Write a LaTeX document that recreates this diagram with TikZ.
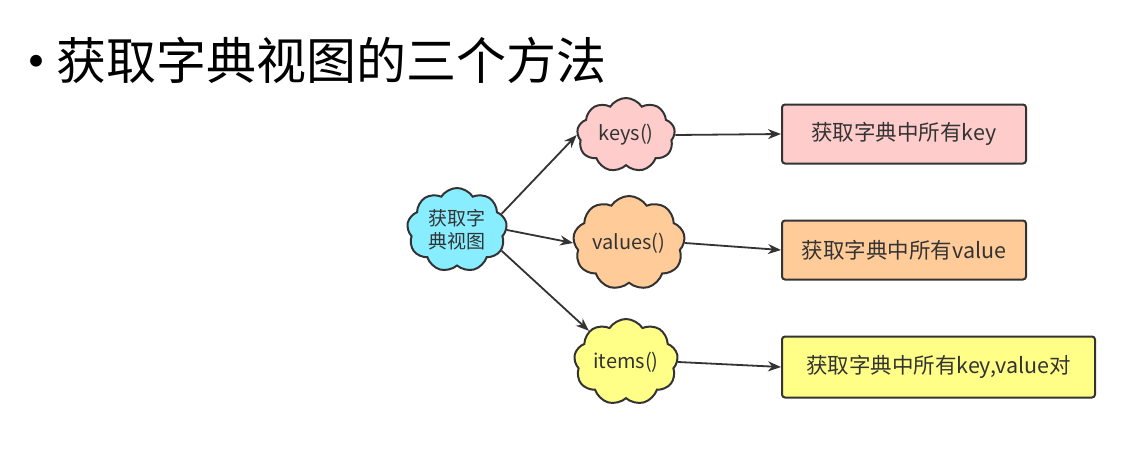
\documentclass[tikz,border=0pt]{standalone}
\usepackage{fontspec}
\setmainfont{Noto Sans CJK SC}
\newfontfamily\cjk{Noto Sans CJK SC}
\usetikzlibrary{shapes.symbols,arrows.meta}
\definecolor{cyancl}{RGB}{136,238,255}
\definecolor{pinkcl}{RGB}{255,204,204}
\definecolor{orangecl}{RGB}{255,204,153}
\definecolor{yellowcl}{RGB}{255,255,136}
\definecolor{linecl}{RGB}{51,51,51}
\definecolor{txtcl}{RGB}{51,51,51}
\tikzset{
  cloudnode/.style={cloud, cloud puffs=9, cloud puff arc=115, aspect=1.3, draw=linecl, line width=2pt, inner sep=0pt, text=txtcl, font=\cjk\fontsize{20}{24}\selectfont, align=center},
  boxnode/.style={draw=linecl, line width=2pt, rounded corners=3pt, text=txtcl, font=\cjk\fontsize{21.5}{24}\selectfont, minimum height=59pt, anchor=west},
  conn/.style={draw=linecl, line width=1.8pt, -{Stealth[length=13pt,width=10pt]}}
}
\begin{document}
\begin{tikzpicture}[x=1pt,y=-1pt]
\useasboundingbox[fill=white] (0,0) rectangle (1127,469);
\node[anchor=center, font=\cjk\fontsize{56}{60}\selectfont] (bullet) at (37,69) {•};
\node[anchor=west, inner sep=0pt, font=\cjk\fontsize{50}{58}\selectfont] (title) at (56,60) {获取字典视图的三个方法};
\node[cloudnode, fill=cyancl, minimum width=100pt, minimum height=84pt, font=\cjk\fontsize{19}{23}\selectfont] (c) at (457,230) {获取字\\典视图};
\node[cloudnode, fill=pinkcl, minimum width=98pt, minimum height=74pt] (k) at (626,135) {keys()};
\node[cloudnode, fill=orangecl, minimum width=104pt, minimum height=86pt] (v) at (629,243) {values()};
\node[cloudnode, fill=yellowcl, minimum width=104pt, minimum height=86pt] (i) at (626,362) {items()};
\node[boxnode, fill=pinkcl, minimum width=244pt] (kb) at (781,134) {获取字典中所有key};
\node[boxnode, fill=orangecl, minimum width=244pt] (vb) at (781,250) {获取字典中所有value};
\node[boxnode, fill=yellowcl, minimum width=313pt, minimum height=61pt] (ib) at (781,367) {获取字典中所有key,value对};
\draw[conn] (c.20) -- (k.west);
\draw[conn] (c.east) -- (v.west);
\draw[conn] (c.-25) -- (i.140);
\draw[conn] (k.east) -- (kb.west);
\draw[conn] (v.east) -- (vb.west);
\draw[conn] (i.east) -- (ib.west);
\end{tikzpicture}
\end{document}
